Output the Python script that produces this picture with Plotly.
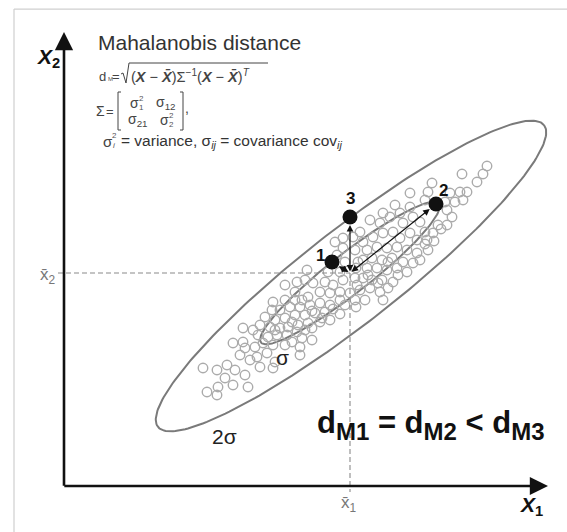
import numpy as np
import plotly.graph_objects as go

FONT = "Liberation Sans, Arial, sans-serif"

# Sample observations (x1, x2)
obs_x1 = [423, 419, 413, 398, 403, 396, 399, 391, 386, 381, 383, 388, 383, 377, 374, 368, 364, 361, 369, 363, 346, 364,
          319, 326, 336, 346, 349, 339, 316, 306, 296, 299, 309, 319, 329, 336, 346, 353, 271, 279, 289, 279, 291, 303,
          313, 323, 333, 343, 353, 273, 299, 308, 318, 328, 339, 349, 303, 313, 323, 333, 343, 243, 241, 249, 261, 269,
          279, 291, 299, 308, 318, 329, 256, 266, 276, 286, 296, 306, 316, 324, 319, 244, 276, 264,
          221, 233, 231, 209, 221, 231, 208, 216, 226, 236, 246, 256, 266, 201, 211, 221, 231, 241, 251, 261, 196, 206,
          216, 224, 234, 244, 256, 179, 189, 194, 204, 213, 223, 233, 241, 169, 179, 181, 191, 199, 209, 221, 228, 236,
          176, 193, 203, 236,
          139, 153, 163, 171, 181, 169, 184, 154, 143, 153, 196, 209, 211,
          301, 292, 276, 370, 361,
          238, 248, 258, 269, 276, 294, 304, 314, 334, 324, 293, 356, 361, 356, 211, 228, 238, 248, 186, 161,
          266, 281, 291, 281, 292, 331, 248]
obs_x2 = [320, 312, 304, 312, 294, 294, 286, 284, 293, 284, 276, 269, 261, 257, 261, 303, 294, 286, 253, 246, 293, 236,
          273, 269, 273, 279, 269, 263, 263, 266, 254, 244, 249, 253, 254, 248, 253, 246, 244, 248, 249, 238, 236, 236,
          239, 238, 239, 236, 233, 231, 226, 228, 226, 228, 224, 223, 218, 218, 216, 218, 214, 216, 206, 203, 204, 201,
          206, 208, 208, 206, 206, 204, 194, 193, 194, 193, 196, 198, 194, 198, 186, 189, 214, 214,
          201, 204, 194, 184, 186, 186, 176, 176, 179, 179, 181, 183, 181, 169, 166, 168, 171, 171, 173, 174, 161, 159,
          158, 159, 161, 163, 164, 158, 156, 151, 149, 151, 151, 154, 156, 143, 144, 138, 139, 143, 141, 141, 144, 139,
          131, 129, 133, 131,
          118, 116, 121, 116, 111, 101, 99, 99, 94, 91, 119, 118, 124,
          186, 179, 172, 245, 242,
          186, 175, 168, 177, 186, 224, 211, 203, 211, 224, 201, 264, 254, 226, 156, 164, 148, 158, 126, 108,
          166, 181, 186, 224, 218, 281, 146]

# Sample mean
mean_x1, mean_x2 = 286, 213

# Highlighted observations
pt_labels = ["1", "2", "3"]
pt_x1 = [268, 372, 286]
pt_x2 = [224, 282, 269]

# Constant-distance ellipses: (centre x1, centre x2, semi-major, semi-minor, rotation in degrees)
ellipse_sigma = (286, 213, 113, 20, 38.0)
ellipse_2sigma = (287, 210, 245, 47, 38.0)

# Axis extents
x_axis_end = 484
y_axis_end = 454


def ellipse(cx, cy, a, b, deg, n=240):
    t = np.linspace(0, 2 * np.pi, n)
    th = np.radians(deg)
    x = cx + a * np.cos(t) * np.cos(th) - b * np.sin(t) * np.sin(th)
    y = cy + a * np.cos(t) * np.sin(th) + b * np.sin(t) * np.cos(th)
    return x, y


fig = go.Figure()

for params in (ellipse_2sigma, ellipse_sigma):
    ex, ey = ellipse(*params)
    fig.add_trace(go.Scatter(x=ex, y=ey, mode="lines", hoverinfo="skip",
                             line=dict(color="#7a7a7a", width=2)))

fig.add_trace(go.Scatter(
    x=obs_x1, y=obs_x2, mode="markers", hoverinfo="skip",
    marker=dict(symbol="circle-open", size=9.5, color="#ababab", line=dict(width=1.4)),
))

fig.add_trace(go.Scatter(
    x=pt_x1, y=pt_x2, mode="markers", hoverinfo="skip",
    marker=dict(symbol="circle", size=15, color="#111111"),
))

shapes = [
    # frame
    dict(type="line", xref="paper", yref="paper", x0=0.0247, x1=0.0247, y0=0, y1=0.983,
         line=dict(color="#cfcfcf", width=1.2), layer="below"),
    dict(type="line", xref="paper", yref="paper", x0=0.0247, x1=1, y0=0.983, y1=0.983,
         line=dict(color="#cfcfcf", width=1.2), layer="below"),
    # mean guides
    dict(type="line", x0=-6, x1=mean_x1, y0=mean_x2, y1=mean_x2,
         line=dict(color="#8a8a8a", width=1.1, dash="5px,3px")),
    dict(type="line", x0=mean_x1, x1=mean_x1, y0=mean_x2, y1=-6,
         line=dict(color="#8a8a8a", width=1.1, dash="5px,3px")),
    # radical sign
    dict(type="path", path="M 57 412 L 59 413 L 62 403 L 65 423 L 204 423",
         line=dict(color="#444", width=1)),
    # matrix brackets
    dict(type="path", path="M 57 394 L 54 394 L 54 356 L 57 356", line=dict(color="#444", width=1)),
    dict(type="path", path="M 116 394 L 119 394 L 119 356 L 116 356", line=dict(color="#444", width=1)),
]

ann = []


def txt(x, y, text, size, color="#333", anchor="center", vanchor="middle", bold=False):
    if bold:
        text = "<b>" + text + "</b>"
    ann.append(dict(x=x, y=y, text=text, showarrow=False, xanchor=anchor, yanchor=vanchor,
                    font=dict(family=FONT, size=size, color=color)))


# axes with arrowheads
for tx, ty in ((x_axis_end, 0), (0, y_axis_end)):
    ann.append(dict(x=tx, y=ty, ax=-1.2 if ty == 0 else 0, ay=0 if ty == 0 else -1.2,
                    xref="x", yref="y", axref="x", ayref="y", text="", showarrow=True,
                    arrowhead=2, arrowsize=1.4, arrowwidth=2.6, arrowcolor="#111"))

# vectors from the mean to observations 1, 2, 3
for px, py in zip(pt_x1, pt_x2):
    ann.append(dict(x=px, y=py, ax=mean_x1, ay=mean_x2, xref="x", yref="y", axref="x", ayref="y",
                    text="", showarrow=True, arrowhead=2, arrowside="end+start", arrowsize=1.1,
                    arrowwidth=1.2, standoff=8, startstandoff=0, arrowcolor="#111"))

# labels of the highlighted observations
txt(256, 231, pt_labels[0], 17, "#111", bold=True)
txt(379, 296, pt_labels[1], 17, "#111", bold=True)
txt(286, 288, pt_labels[2], 17, "#111", bold=True)

# axis labels
txt(-16, 428, "<i>X</i><sub>2</sub>", 21, "#111", bold=True)
txt(467, -20, "<i>X</i><sub>1</sub>", 21, "#111", bold=True)
txt(-16, 210, "x\u0304<sub>2</sub>", 17, "#777")
txt(285, -18, "x\u0304<sub>1</sub>", 17, "#777")

# ellipse labels
txt(218, 129, "\u03c3", 21, "#222")
txt(160, 50, "2\u03c3", 21, "#222")

# title and formulas
txt(32, 444, "Mahalanobis distance", 21, "#333", anchor="left")
txt(33, 410, "d", 13, "#444", anchor="left")
txt(42, 407, "M", 6, "#555", anchor="left")
txt(51.5, 410, "=", 13, "#444")
txt(65, 410, "(<b><i>X</i></b> \u2212 <b><i>X\u0304</i></b>)\u03a3<sup>\u22121</sup>(<b><i>X</i></b> \u2212 "
             "<b><i>X\u0304</i></b>)<sup><i>T</i></sup>", 14.5, "#444", anchor="left")
txt(36, 375, "\u03a3", 14, "#444")
txt(46, 375, "=", 13, "#444")
txt(70, 383, "\u03c3", 14, "#444")
txt(77, 388, "2", 8, "#555")
txt(77, 379, "1", 8, "#555")
txt(102, 383, "\u03c3<sub>12</sub>", 14, "#444")
txt(74, 366, "\u03c3<sub>21</sub>", 14, "#444")
txt(100, 366, "\u03c3", 14, "#444")
txt(107, 371, "2", 8, "#555")
txt(107, 362, "2", 8, "#555")
txt(123, 378, ",", 14, "#444")
txt(44, 345, "\u03c3", 15, "#444")
txt(50, 351, "2", 8, "#555")
txt(50, 341, "<i>i</i>", 8, "#555")
txt(55, 345, "= variance, \u03c3<sub><i>ij</i></sub> = covariance cov<sub><i>ij</i></sub>", 15.5, "#333",
    anchor="left")

# comparison of distances
sub = '<sub><span style="font-size:24px">{}</span></sub>'
txt(251, 61, "d" + sub.format("M1") + " = d" + sub.format("M2") + " &lt; d" + sub.format("M3"),
    31, "#111", anchor="left", bold=True)

fig.update_layout(
    width=567, height=532, autosize=False,
    margin=dict(l=0, r=0, t=0, b=0),
    paper_bgcolor="white", plot_bgcolor="white",
    showlegend=False,
    xaxis=dict(range=[-64, 503], visible=False, fixedrange=True),
    yaxis=dict(range=[-46, 486], visible=False, fixedrange=True),
    shapes=shapes, annotations=ann,
)

fig.write_html("out.html")
